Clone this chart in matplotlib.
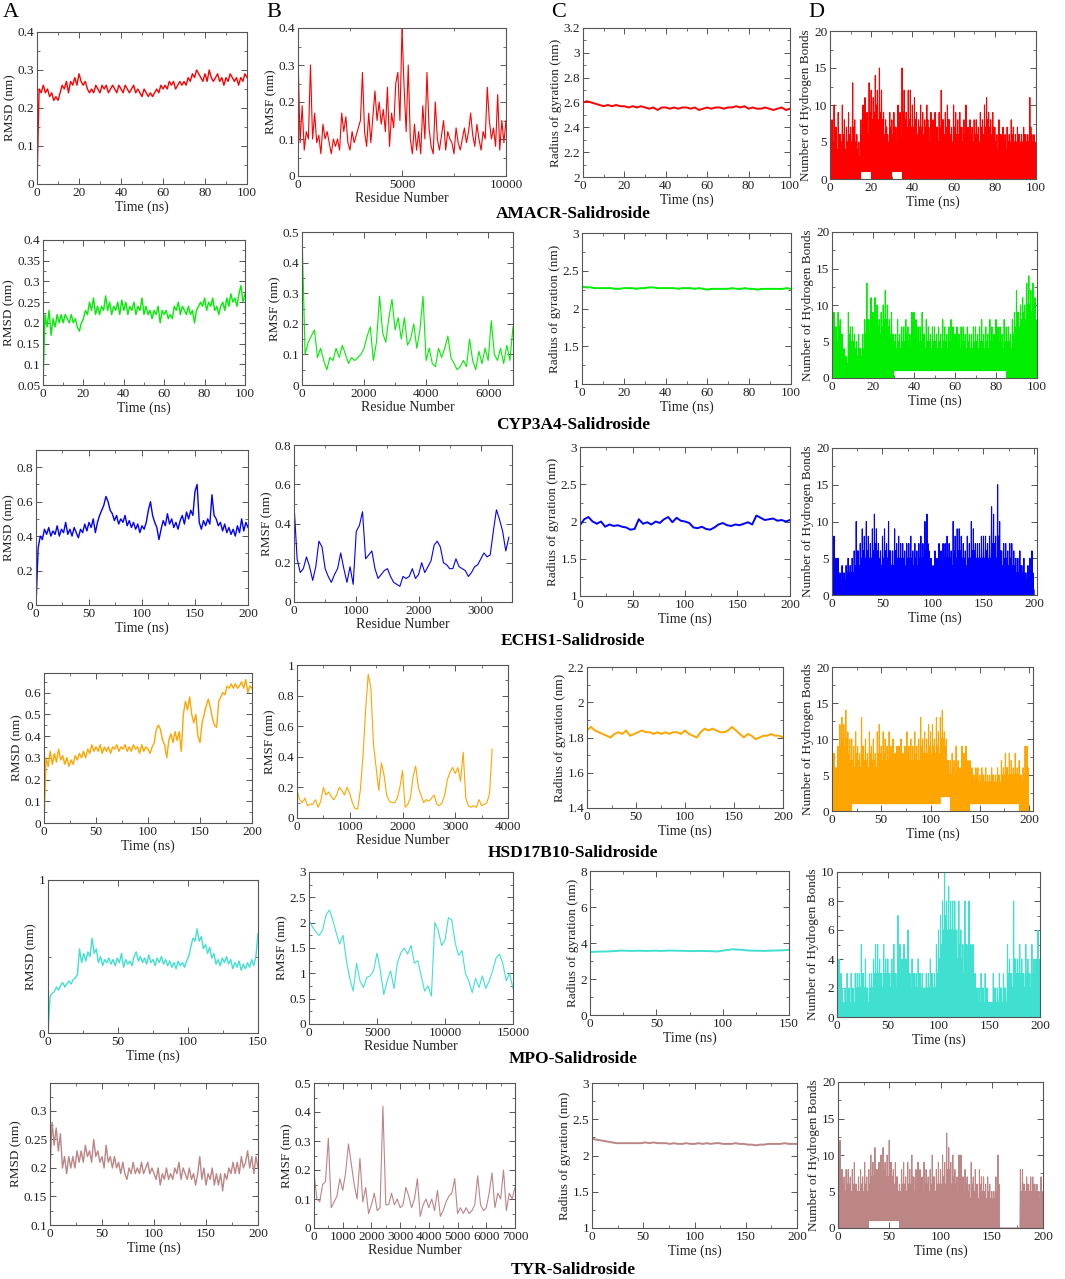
import numpy as np
import matplotlib
matplotlib.use("Agg")
import matplotlib.pyplot as plt
from matplotlib.ticker import MultipleLocator, AutoMinorLocator, FuncFormatter

plt.rcParams['font.family'] = ['Liberation Serif', 'DejaVu Serif']

# ---------------- data ----------------
complexes = ["AMACR-Salidroside", "CYP3A4-Salidroside", "ECHS1-Salidroside",
             "HSD17B10-Salidroside", "MPO-Salidroside", "TYR-Salidroside"]
colors = ["#ff0000", "#00ee00", "#0000ff", "#ffa500", "#40e0d0", "#bc8586"]
sim_time = [100, 100, 200, 200, 150, 200]        # ns (RMSD / Rg)
hb_time = [100, 100, 200, 200, 200, 200]         # ns (H-bonds)
n_residue = [10000, 6800, 3450, 3700, 15000, 7000]

# RMSD (nm)
amacr_rmsd = [0.00, 0.25, 0.24, 0.26, 0.24, 0.25, 0.23, 0.24, 0.22, 0.23,
              0.22, 0.24, 0.26, 0.25, 0.27, 0.24, 0.27, 0.26, 0.28, 0.26,
              0.29, 0.27, 0.26, 0.27, 0.25, 0.24, 0.25, 0.24, 0.26, 0.25,
              0.24, 0.26, 0.25, 0.26, 0.24, 0.25, 0.26, 0.25, 0.24, 0.26,
              0.25, 0.24, 0.26, 0.25, 0.24, 0.25, 0.26, 0.24, 0.25, 0.24,
              0.23, 0.25, 0.24, 0.23, 0.24, 0.23, 0.24, 0.25, 0.24, 0.26,
              0.25, 0.26, 0.25, 0.27, 0.26, 0.27, 0.25, 0.26, 0.27, 0.26,
              0.27, 0.26, 0.28, 0.27, 0.29, 0.28, 0.30, 0.29, 0.28, 0.27,
              0.29, 0.27, 0.30, 0.28, 0.27, 0.28, 0.29, 0.27, 0.28, 0.26,
              0.28, 0.27, 0.29, 0.28, 0.27, 0.28, 0.26, 0.28, 0.27, 0.29, 0.28]
cyp_rmsd = [0.05, 0.22, 0.19, 0.23, 0.17, 0.21, 0.19, 0.22, 0.20, 0.22,
            0.20, 0.22, 0.21, 0.20, 0.22, 0.20, 0.21, 0.19, 0.18, 0.20,
            0.21, 0.23, 0.22, 0.25, 0.23, 0.26, 0.22, 0.24, 0.22, 0.24,
            0.23, 0.265, 0.23, 0.25, 0.22, 0.24, 0.23, 0.25, 0.22, 0.255,
            0.23, 0.25, 0.22, 0.24, 0.23, 0.25, 0.22, 0.24, 0.23, 0.26,
            0.22, 0.24, 0.22, 0.23, 0.21, 0.23, 0.22, 0.24, 0.20, 0.23,
            0.22, 0.23, 0.21, 0.22, 0.21, 0.24, 0.23, 0.25, 0.22, 0.24,
            0.23, 0.22, 0.24, 0.22, 0.23, 0.20, 0.23, 0.24, 0.25, 0.24,
            0.26, 0.23, 0.25, 0.24, 0.26, 0.23, 0.24, 0.22, 0.24, 0.25,
            0.23, 0.26, 0.24, 0.27, 0.25, 0.26, 0.24, 0.27, 0.29, 0.25, 0.27]
echs1_rmsd = [0.00, 0.33, 0.40, 0.38, 0.44, 0.41, 0.45, 0.40, 0.43, 0.41,
              0.46, 0.40, 0.44, 0.42, 0.48, 0.41, 0.44, 0.40, 0.45, 0.42,
              0.39, 0.44, 0.42, 0.47, 0.43, 0.48, 0.45, 0.50, 0.42, 0.48,
              0.52, 0.55, 0.58, 0.63, 0.60, 0.55, 0.53, 0.49, 0.52, 0.47,
              0.50, 0.48, 0.52, 0.46, 0.49, 0.45, 0.48, 0.44, 0.47, 0.42,
              0.46, 0.44, 0.48, 0.55, 0.60, 0.52, 0.48, 0.45, 0.38, 0.44,
              0.49, 0.46, 0.53, 0.47, 0.50, 0.45, 0.48, 0.44, 0.49, 0.52,
              0.47, 0.54, 0.50, 0.55, 0.52, 0.66, 0.70, 0.48, 0.44, 0.49,
              0.46, 0.50, 0.47, 0.64, 0.52, 0.50, 0.46, 0.48, 0.43, 0.47,
              0.42, 0.45, 0.41, 0.44, 0.40, 0.46, 0.42, 0.50, 0.43, 0.48, 0.45]
hsd_rmsd = [0.00, 0.30, 0.26, 0.33, 0.27, 0.32, 0.28, 0.34, 0.29, 0.31,
            0.27, 0.30, 0.26, 0.29, 0.27, 0.31, 0.29, 0.32, 0.30, 0.33,
            0.30, 0.34, 0.32, 0.36, 0.33, 0.35, 0.33, 0.36, 0.32, 0.35,
            0.33, 0.35, 0.32, 0.35, 0.34, 0.36, 0.33, 0.35, 0.34, 0.36,
            0.33, 0.35, 0.33, 0.36, 0.34, 0.35, 0.32, 0.36, 0.33, 0.35,
            0.34, 0.32, 0.35, 0.37, 0.43, 0.45, 0.43, 0.38, 0.36, 0.30,
            0.38, 0.41, 0.37, 0.42, 0.38, 0.42, 0.33, 0.50, 0.56, 0.52,
            0.58, 0.50, 0.46, 0.50, 0.40, 0.37, 0.46, 0.50, 0.54, 0.57,
            0.53, 0.48, 0.45, 0.44, 0.56, 0.58, 0.60, 0.59, 0.63, 0.62,
            0.64, 0.62, 0.64, 0.62, 0.63, 0.65, 0.62, 0.66, 0.60, 0.63, 0.62]
mpo_rmsd = [0.00, 0.24, 0.26, 0.27, 0.30, 0.28, 0.31, 0.33, 0.30, 0.32,
            0.34, 0.32, 0.35, 0.36, 0.38, 0.55, 0.46, 0.52, 0.47, 0.53,
            0.50, 0.62, 0.52, 0.55, 0.46, 0.50, 0.44, 0.48, 0.46, 0.49,
            0.45, 0.48, 0.44, 0.49, 0.46, 0.52, 0.43, 0.48, 0.45, 0.47,
            0.44, 0.50, 0.53, 0.47, 0.50, 0.46, 0.49, 0.45, 0.51, 0.46,
            0.48, 0.44, 0.49, 0.46, 0.50, 0.45, 0.48, 0.44, 0.47, 0.43,
            0.46, 0.42, 0.47, 0.44, 0.46, 0.43, 0.47, 0.50, 0.56, 0.62,
            0.60, 0.68, 0.60, 0.63, 0.55, 0.58, 0.52, 0.56, 0.49, 0.52,
            0.45, 0.48, 0.44, 0.49, 0.46, 0.50, 0.45, 0.48, 0.42, 0.46,
            0.43, 0.47, 0.41, 0.45, 0.42, 0.46, 0.43, 0.48, 0.44, 0.50, 0.65]
tyr_rmsd = [0.20, 0.28, 0.24, 0.27, 0.23, 0.26, 0.20, 0.22, 0.19, 0.22,
            0.20, 0.22, 0.20, 0.23, 0.21, 0.23, 0.21, 0.24, 0.22, 0.23,
            0.21, 0.25, 0.22, 0.23, 0.21, 0.22, 0.20, 0.24, 0.21, 0.22,
            0.20, 0.22, 0.20, 0.21, 0.19, 0.21, 0.19, 0.18, 0.20, 0.19,
            0.21, 0.19, 0.20, 0.19, 0.21, 0.19, 0.20, 0.21, 0.19, 0.20,
            0.19, 0.18, 0.20, 0.17, 0.19, 0.18, 0.20, 0.18, 0.19, 0.18,
            0.20, 0.19, 0.21, 0.18, 0.20, 0.19, 0.18, 0.20, 0.18, 0.19,
            0.17, 0.19, 0.22, 0.18, 0.20, 0.17, 0.19, 0.18, 0.20, 0.17,
            0.19, 0.17, 0.19, 0.16, 0.19, 0.18, 0.20, 0.19, 0.21, 0.19,
            0.21, 0.19, 0.22, 0.20, 0.21, 0.23, 0.20, 0.22, 0.19, 0.22, 0.20]

# RMSF (nm)
amacr_rmsf = [0.33, 0.09, 0.19, 0.07, 0.12, 0.10, 0.30, 0.10, 0.17, 0.09,
              0.11, 0.06, 0.14, 0.10, 0.12, 0.09, 0.06, 0.10, 0.08, 0.10,
              0.07, 0.17, 0.12, 0.16, 0.09, 0.07, 0.12, 0.09, 0.11, 0.13,
              0.15, 0.28, 0.12, 0.08, 0.17, 0.09, 0.16, 0.23, 0.15, 0.20,
              0.14, 0.18, 0.12, 0.24, 0.08, 0.17, 0.13, 0.25, 0.28, 0.15,
              0.40, 0.24, 0.12, 0.30, 0.10, 0.06, 0.14, 0.07, 0.12, 0.06,
              0.19, 0.10, 0.28, 0.13, 0.08, 0.06, 0.20, 0.10, 0.07, 0.11,
              0.15, 0.07, 0.12, 0.10, 0.09, 0.06, 0.13, 0.09, 0.07, 0.10,
              0.13, 0.09, 0.12, 0.17, 0.11, 0.08, 0.14, 0.10, 0.07, 0.12,
              0.10, 0.24, 0.15, 0.10, 0.13, 0.08, 0.22, 0.07, 0.15, 0.09, 0.15]
cyp_rmsf = [0.50, 0.10, 0.14, 0.16, 0.18, 0.09, 0.12, 0.08, 0.05, 0.09,
            0.08, 0.12, 0.09, 0.13, 0.10, 0.07, 0.09, 0.08, 0.09, 0.10,
            0.12, 0.16, 0.19, 0.08, 0.14, 0.29, 0.17, 0.14, 0.22, 0.28,
            0.18, 0.22, 0.15, 0.22, 0.13, 0.15, 0.20, 0.12, 0.18, 0.29,
            0.08, 0.12, 0.07, 0.06, 0.12, 0.09, 0.12, 0.16, 0.09, 0.07,
            0.05, 0.06, 0.08, 0.06, 0.15, 0.08, 0.05, 0.11, 0.07, 0.12,
            0.08, 0.21, 0.10, 0.08, 0.12, 0.07, 0.13, 0.08, 0.19]
echs1_rmsf = [0.50, 0.22, 0.15, 0.17, 0.23, 0.18, 0.11, 0.18, 0.31, 0.28,
              0.17, 0.13, 0.10, 0.14, 0.17, 0.25, 0.17, 0.10, 0.18, 0.09,
              0.36, 0.39, 0.46, 0.22, 0.24, 0.26, 0.17, 0.12, 0.14, 0.16,
              0.17, 0.13, 0.10, 0.09, 0.08, 0.13, 0.12, 0.13, 0.17, 0.12,
              0.14, 0.20, 0.15, 0.18, 0.21, 0.29, 0.31, 0.28, 0.20, 0.19,
              0.17, 0.17, 0.22, 0.18, 0.17, 0.16, 0.13, 0.15, 0.18, 0.19,
              0.22, 0.25, 0.23, 0.24, 0.36, 0.47, 0.42, 0.36, 0.26, 0.33]
hsd_rmsf = [0.18, 0.12, 0.10, 0.13, 0.08, 0.09, 0.09, 0.12, 0.07, 0.11,
            0.20, 0.15, 0.17, 0.14, 0.12, 0.15, 0.20, 0.18, 0.15, 0.20,
            0.16, 0.10, 0.06, 0.06, 0.18, 0.40, 0.70, 0.94, 0.85, 0.48,
            0.33, 0.18, 0.36, 0.28, 0.15, 0.11, 0.10, 0.10, 0.13, 0.20,
            0.31, 0.07, 0.09, 0.13, 0.27, 0.34, 0.20, 0.15, 0.10, 0.12,
            0.11, 0.13, 0.15, 0.09, 0.08, 0.10, 0.15, 0.25, 0.30, 0.33,
            0.29, 0.33, 0.24, 0.43, 0.13, 0.08, 0.07, 0.08, 0.07, 0.12,
            0.08, 0.09, 0.10, 0.16, 0.45]
mpo_rmsf = [2.05, 1.92, 1.82, 1.75, 1.85, 2.15, 2.25, 2.05, 1.80, 1.58,
            1.75, 1.25, 0.90, 0.65, 1.20, 0.85, 0.72, 0.92, 0.95, 1.05,
            1.40, 1.05, 0.58, 0.85, 1.05, 0.70, 1.20, 1.40, 1.50, 1.38,
            1.55, 1.20, 1.25, 0.95, 0.65, 0.75, 0.55, 2.00, 1.85, 1.55,
            1.65, 2.10, 2.05, 1.60, 1.35, 1.45, 1.00, 0.85, 0.62, 0.90,
            0.72, 0.95, 0.70, 0.85, 1.05, 1.30, 1.38, 1.20, 0.85, 1.00, 0.70]
tyr_rmsf = [0.19, 0.10, 0.09, 0.15, 0.16, 0.31, 0.07, 0.09, 0.11, 0.17,
            0.13, 0.19, 0.29, 0.22, 0.15, 0.10, 0.24, 0.09, 0.14, 0.05,
            0.08, 0.12, 0.06, 0.07, 0.42, 0.08, 0.08, 0.12, 0.08, 0.10,
            0.07, 0.08, 0.14, 0.11, 0.07, 0.10, 0.17, 0.04, 0.08, 0.10,
            0.07, 0.10, 0.06, 0.13, 0.04, 0.06, 0.09, 0.11, 0.12, 0.17,
            0.05, 0.07, 0.05, 0.07, 0.05, 0.06, 0.08, 0.18, 0.08, 0.06,
            0.07, 0.12, 0.19, 0.07, 0.12, 0.10, 0.20, 0.06, 0.12, 0.10, 0.14]

# Radius of gyration (nm)
amacr_rg = [2.60, 2.61, 2.60, 2.59, 2.58, 2.57, 2.58, 2.57, 2.58, 2.57,
            2.57, 2.56, 2.57, 2.56, 2.57, 2.56, 2.55, 2.56, 2.54, 2.56,
            2.56, 2.55, 2.56, 2.55, 2.56, 2.56, 2.55, 2.56, 2.54, 2.55,
            2.56, 2.55, 2.56, 2.56, 2.55, 2.56, 2.56, 2.57, 2.56, 2.57,
            2.55, 2.56, 2.55, 2.55, 2.56, 2.55, 2.54, 2.55, 2.56, 2.54, 2.55]
cyp_rg = [2.29, 2.28, 2.28, 2.27, 2.27, 2.27, 2.27, 2.27, 2.26, 2.26,
          2.27, 2.27, 2.27, 2.26, 2.27, 2.27, 2.28, 2.28, 2.27, 2.27,
          2.27, 2.27, 2.27, 2.26, 2.27, 2.27, 2.27, 2.26, 2.27, 2.26,
          2.25, 2.26, 2.26, 2.26, 2.26, 2.26, 2.27, 2.26, 2.26, 2.27,
          2.26, 2.26, 2.25, 2.26, 2.26, 2.26, 2.26, 2.26, 2.26, 2.27, 2.26]
echs1_rg = [1.95, 2.03, 2.06, 2.00, 1.97, 2.00, 1.93, 1.96, 1.94, 1.95,
            1.93, 1.92, 1.89, 1.90, 2.03, 1.97, 1.99, 1.96, 2.00, 1.98,
            2.03, 2.06, 1.99, 2.05, 2.01, 2.00, 1.98, 1.92, 1.91, 1.93,
            1.90, 1.89, 1.92, 1.96, 1.98, 1.95, 1.94, 1.96, 1.95, 1.97,
            1.99, 1.96, 2.08, 2.05, 2.02, 2.03, 2.04, 2.01, 2.02, 2.00, 2.02]
hsd_rg = [1.84, 1.86, 1.84, 1.83, 1.82, 1.81, 1.80, 1.82, 1.83, 1.82,
          1.84, 1.81, 1.82, 1.83, 1.84, 1.83, 1.83, 1.82, 1.83, 1.82,
          1.83, 1.82, 1.83, 1.83, 1.82, 1.84, 1.82, 1.81, 1.80, 1.83,
          1.85, 1.84, 1.85, 1.84, 1.83, 1.83, 1.84, 1.86, 1.84, 1.82,
          1.80, 1.82, 1.81, 1.79, 1.80, 1.81, 1.81, 1.82, 1.81, 1.81, 1.80]
mpo_rg = [3.50, 3.52, 3.53, 3.55, 3.58, 3.56, 3.57, 3.56, 3.57, 3.56,
          3.58, 3.57, 3.56, 3.55, 3.56, 3.55, 3.53, 3.60, 3.65, 3.62,
          3.58, 3.57, 3.56, 3.58, 3.59, 3.62]
tyr_rg = [2.23, 2.22, 2.21, 2.20, 2.19, 2.18, 2.17, 2.17, 2.17, 2.17,
          2.17, 2.17, 2.17, 2.18, 2.17, 2.18, 2.17, 2.17, 2.17, 2.16,
          2.17, 2.16, 2.16, 2.17, 2.16, 2.16, 2.17, 2.16, 2.17, 2.16,
          2.17, 2.17, 2.16, 2.16, 2.16, 2.17, 2.16, 2.16, 2.15, 2.15,
          2.14, 2.15, 2.15, 2.16, 2.16, 2.16, 2.16, 2.17, 2.16, 2.16, 2.16]

# Hydrogen bonds: per-bin maximum, per-bin dense level, coarse floor
amacr_hb_peak = [12, 8, 10, 7, 9, 6, 10, 8, 7, 9, 7, 13, 8, 6, 5, 8, 10, 11, 9, 13,
                 12, 11, 14, 12, 15, 12, 9, 8, 6, 9, 8, 9, 7, 10, 9, 15, 12, 9, 12, 12,
                 10, 11, 9, 8, 10, 9, 8, 10, 7, 9, 8, 9, 7, 9, 12, 8, 9, 10, 8, 7,
                 10, 9, 8, 9, 7, 8, 10, 7, 8, 7, 8, 8, 7, 9, 8, 10, 11, 9, 8, 9,
                 7, 6, 8, 6, 7, 6, 7, 6, 8, 7, 6, 7, 6, 6, 7, 6, 6, 11, 6, 6]
amacr_hb_band = [6, 5, 7, 4, 6, 5, 6, 4, 5, 6, 5, 7, 5, 4, 3, 6, 7, 8, 6, 9,
                 8, 9, 10, 8, 9, 8, 6, 7, 5, 7, 6, 7, 5, 8, 6, 9, 8, 7, 8, 7,
                 7, 8, 6, 7, 7, 6, 7, 8, 5, 7, 6, 7, 5, 7, 8, 6, 7, 8, 6, 5,
                 7, 6, 6, 7, 5, 6, 7, 5, 6, 5, 6, 6, 5, 7, 6, 7, 8, 7, 6, 7,
                 5, 4, 6, 5, 5, 4, 5, 5, 6, 5, 5, 6, 5, 5, 6, 5, 5, 7, 5, 5]
amacr_hb_floor = [0, 0, 0, 1, 0, 0, 1, 0, 0, 0, 0, 0, 0, 0, 0, 0, 0, 0, 0, 0]
cyp_hb_peak = [7, 9, 7, 9, 8, 6, 4, 3, 9, 7, 7, 6, 5, 6, 4, 6, 8, 13, 8, 11,
               9, 11, 10, 8, 9, 10, 12, 10, 8, 9, 6, 6, 8, 6, 7, 7, 8, 7, 6, 9,
               9, 8, 7, 7, 9, 6, 8, 7, 6, 7, 7, 6, 7, 6, 8, 7, 6, 7, 8, 7,
               6, 7, 6, 7, 7, 6, 7, 6, 6, 7, 7, 6, 7, 8, 6, 7, 6, 8, 7, 6,
               8, 7, 7, 6, 8, 7, 7, 6, 8, 9, 12, 9, 10, 11, 10, 13, 14, 12, 13, 11]
cyp_hb_band = [6, 7, 5, 7, 6, 4, 3, 2, 6, 5, 5, 4, 3, 4, 3, 4, 6, 8, 6, 8,
               7, 8, 7, 6, 7, 8, 8, 7, 6, 6, 5, 4, 5, 4, 5, 5, 6, 5, 4, 6,
               6, 5, 5, 5, 6, 4, 5, 5, 4, 5, 5, 4, 5, 4, 5, 5, 4, 5, 5, 5,
               4, 5, 4, 5, 5, 4, 5, 4, 4, 5, 5, 4, 5, 5, 4, 5, 4, 5, 5, 4,
               5, 5, 5, 4, 5, 5, 5, 4, 6, 7, 9, 7, 8, 9, 8, 10, 10, 9, 10, 8]
cyp_hb_floor = [0, 0, 0, 0, 0, 0, 1, 1, 1, 1, 1, 1, 1, 1, 1, 1, 1, 0, 0, 0]
echs1_hb_peak = [4, 8, 5, 5, 3, 4, 3, 4, 5, 4, 5, 6, 10, 6, 7, 9, 8, 10, 8, 7,
                 9, 11, 9, 7, 6, 8, 9, 7, 10, 6, 6, 9, 7, 8, 7, 7, 6, 7, 7, 8,
                 6, 7, 6, 7, 8, 7, 10, 11, 6, 5, 4, 6, 5, 7, 6, 7, 7, 8, 7, 6,
                 10, 8, 9, 9, 8, 7, 6, 8, 7, 10, 9, 7, 7, 7, 8, 8, 8, 7, 8, 12,
                 11, 8, 15, 10, 6, 7, 7, 6, 7, 7, 6, 5, 5, 6, 4, 5, 3, 4, 5, 6]
echs1_hb_band = [3, 4, 3, 3, 2, 3, 2, 3, 3, 3, 3, 4, 6, 4, 5, 6, 5, 6, 5, 5,
                 6, 7, 6, 5, 4, 5, 6, 5, 6, 4, 4, 6, 5, 5, 5, 5, 4, 5, 5, 5,
                 4, 5, 4, 5, 5, 5, 6, 7, 4, 3, 3, 4, 4, 5, 4, 5, 5, 5, 5, 4,
                 6, 5, 6, 6, 5, 5, 4, 5, 5, 6, 6, 5, 5, 5, 5, 5, 6, 5, 5, 7,
                 7, 5, 8, 6, 4, 5, 5, 4, 5, 4, 4, 3, 3, 4, 3, 3, 2, 3, 3, 3]
echs1_hb_floor = [0] * 20
hsd_hb_peak = [7, 8, 6, 9, 12, 13, 12, 14, 11, 10, 10, 9, 11, 9, 8, 13, 9, 10, 8, 11,
               9, 10, 8, 11, 12, 9, 11, 10, 9, 11, 9, 10, 8, 9, 9, 10, 8, 9, 11, 9,
               10, 9, 11, 9, 10, 13, 10, 11, 10, 12, 11, 12, 10, 13, 11, 13, 14, 11, 10, 7,
               7, 8, 7, 9, 7, 6, 9, 8, 9, 7, 7, 6, 5, 6, 6, 5, 6, 5, 6, 5,
               5, 6, 5, 5, 6, 5, 7, 6, 8, 6, 8, 7, 6, 8, 6, 7, 5, 6, 9, 9]
hsd_hb_band = [5, 6, 4, 7, 9, 10, 9, 10, 8, 7, 7, 6, 8, 7, 6, 9, 7, 7, 6, 8,
               7, 7, 6, 8, 8, 7, 8, 7, 7, 8, 7, 7, 6, 7, 7, 7, 6, 7, 8, 7,
               7, 7, 8, 7, 7, 9, 8, 8, 8, 9, 8, 9, 8, 9, 8, 10, 10, 9, 7, 5,
               5, 6, 5, 6, 5, 5, 6, 6, 6, 5, 5, 5, 4, 5, 4, 4, 5, 4, 4, 4,
               4, 5, 4, 4, 5, 4, 5, 5, 6, 5, 5, 5, 5, 5, 5, 5, 4, 5, 6, 6]
hsd_hb_floor = [0, 0, 1, 1, 1, 1, 1, 1, 1, 1, 1, 2, 0, 0, 1, 1, 1, 1, 1, 0]
mpo_hb_peak = [6, 4, 3, 1, 2, 3, 2, 3, 2, 3, 3, 3, 5, 3, 4, 2, 3, 3, 4, 5,
               5, 4, 3, 5, 4, 4, 3, 4, 5, 3, 7, 5, 4, 5, 4, 6, 3, 4, 3, 3,
               4, 3, 3, 2, 3, 3, 4, 3, 3, 5, 6, 7, 8, 10, 8, 9, 8, 8, 8, 6,
               8, 6, 5, 8, 5, 8, 5, 5, 3, 2, 2, 3, 2, 3, 2, 1, 1, 3, 2, 2,
               3, 2, 3, 2, 5, 4, 3, 8, 4, 4, 5, 4, 3, 5, 4, 3, 5, 4, 4, 6]
mpo_hb_band = [3, 2, 2, 1, 1, 2, 1, 2, 1, 2, 2, 2, 3, 2, 2, 1, 2, 2, 3, 3,
               3, 3, 2, 3, 3, 3, 2, 3, 3, 2, 4, 3, 3, 3, 3, 3, 2, 3, 2, 2,
               3, 2, 2, 2, 2, 2, 3, 2, 2, 3, 4, 5, 6, 7, 6, 6, 6, 6, 6, 4,
               5, 4, 3, 5, 3, 5, 3, 3, 2, 1, 1, 2, 1, 2, 1, 1, 1, 2, 1, 1,
               2, 1, 2, 1, 3, 3, 2, 4, 3, 3, 3, 3, 2, 3, 3, 2, 3, 3, 3, 4]
mpo_hb_floor = [0] * 20
tyr_hb_peak = [10, 12, 8, 7, 8, 8, 7, 8, 9, 6, 7, 8, 7, 9, 7, 8, 10, 9, 11, 8,
               9, 10, 11, 9, 10, 12, 9, 8, 9, 7, 6, 8, 9, 7, 9, 8, 10, 7, 8, 9,
               8, 7, 9, 8, 7, 8, 10, 7, 8, 9, 8, 10, 9, 13, 11, 9, 10, 8, 7, 10,
               10, 7, 8, 7, 6, 9, 7, 8, 6, 8, 7, 7, 6, 7, 6, 5, 5, 7, 10, 0,
               0, 0, 0, 0, 0, 0, 0, 0, 0, 8, 8, 6, 7, 6, 7, 7, 6, 6, 5, 7]
tyr_hb_band = [7, 8, 6, 5, 6, 6, 5, 6, 6, 5, 5, 6, 5, 6, 5, 6, 7, 7, 8, 6,
               7, 7, 8, 7, 7, 9, 7, 6, 7, 5, 5, 6, 6, 5, 6, 6, 7, 5, 6, 6,
               6, 5, 6, 6, 5, 6, 7, 5, 6, 6, 6, 7, 6, 8, 8, 6, 7, 6, 5, 7,
               7, 5, 6, 5, 4, 6, 5, 6, 4, 6, 5, 5, 4, 5, 4, 4, 4, 5, 6, 0,
               0, 0, 0, 0, 0, 0, 0, 0, 0, 5, 6, 5, 6, 5, 5, 6, 5, 5, 4, 5]
tyr_hb_floor = [0, 0, 0, 1, 1, 1, 0, 0, 0, 0, 0, 0, 0, 0, 0, 0, 0, 0, 0, 0]

rmsd_all = [amacr_rmsd, cyp_rmsd, echs1_rmsd, hsd_rmsd, mpo_rmsd, tyr_rmsd]
rmsf_all = [amacr_rmsf, cyp_rmsf, echs1_rmsf, hsd_rmsf, mpo_rmsf, tyr_rmsf]
rg_all = [amacr_rg, cyp_rg, echs1_rg, hsd_rg, mpo_rg, tyr_rg]
hb_all = [(amacr_hb_peak, amacr_hb_band, amacr_hb_floor),
          (cyp_hb_peak, cyp_hb_band, cyp_hb_floor),
          (echs1_hb_peak, echs1_hb_band, echs1_hb_floor),
          (hsd_hb_peak, hsd_hb_band, hsd_hb_floor),
          (mpo_hb_peak, mpo_hb_band, mpo_hb_floor),
          (tyr_hb_peak, tyr_hb_band, tyr_hb_floor)]

# ---------------- layout (pixels: left, top, right, bottom) ----------------
W, H = 1065, 1279
boxes = [
    [(37, 32, 247, 184), (298, 28, 506, 176), (583, 28, 790, 177), (830, 31, 1036, 179)],
    [(43, 240, 245, 385), (302, 232, 513, 385), (582, 233, 791, 384), (832, 232, 1037, 378)],
    [(36, 450, 248, 605), (294, 445, 512, 602), (580, 447, 790, 596), (832, 448, 1037, 595)],
    [(44, 673, 252, 823), (297, 665, 508, 818), (587, 667, 783, 808), (832, 667, 1033, 811)],
    [(48, 880, 258, 1033), (309, 872, 513, 1024), (590, 871, 789, 1015), (837, 872, 1040, 1017)],
    [(50, 1083, 258, 1225), (314, 1083, 515, 1228), (592, 1083, 797, 1228), (838, 1082, 1043, 1228)],
]
title_y = [214, 425, 641, 853, 1059, 1270]

# axis settings: (xmax, xstep, ymin, ymax, ystep)
axcfg = [
    [(100, 20, 0, 0.4, 0.1), (10000, 5000, 0, 0.4, 0.1), (100, 20, 2, 3.2, 0.2), (100, 20, 0, 20, 5)],
    [(100, 20, 0.05, 0.4, 0.05), (6800, 2000, 0, 0.5, 0.1), (100, 20, 1, 3, 0.5), (100, 20, 0, 20, 5)],
    [(200, 50, 0, 0.9, 0.2), (3500, 1000, 0, 0.8, 0.2), (200, 50, 1, 3, 0.5), (203, 50, 0, 20, 5)],
    [(200, 50, 0, 0.69, 0.1), (4000, 1000, 0, 1, 0.2), (200, 50, 1.4, 2.2, 0.2), (204, 50, 0, 20, 5)],
    [(150, 50, 0, 1, 1), (15000, 5000, 0, 3, 0.5), (150, 50, 0, 8, 2), (200, 50, 0, 10, 2)],
    [(200, 50, 0.1, 0.349, 0.05), (7000, 1000, 0, 0.5, 0.1), (200, 50, 1, 3, 0.5), (200, 50, 0, 20, 5)],
]
xlabels = ["Time (ns)", "Residue Number", "Time (ns)", "Time (ns)"]
ylabels = ["RMSD (nm)", "RMSF (nm)", "Radius of gyration (nm)", "Number of Hydrogen Bonds"]

fmt = FuncFormatter(lambda v, p: "%g" % round(v, 6))
frame_col = "#555555"

fig = plt.figure(figsize=(W / 100, H / 100), dpi=100)

for r in range(6):
    col = colors[r]
    for c in range(4):
        l, t, rr, b = boxes[r][c]
        ax = fig.add_axes([l / W, 1 - b / H, (rr - l) / W, (b - t) / H])
        xmax, xstep, ymin, ymax, ystep = axcfg[r][c]

        if c == 0:
            y = rmsd_all[r]
            ax.plot(np.linspace(0, sim_time[r], len(y)), y, color=col, lw=1.0)
        elif c == 1:
            y = rmsf_all[r]
            ax.plot(np.linspace(0, n_residue[r], len(y)), y, color=col, lw=0.8)
        elif c == 2:
            y = rg_all[r]
            ax.plot(np.linspace(0, sim_time[r], len(y)), y, color=col, lw=1.4)
        else:
            # each bin is drawn as a quick up/down trace: peak, floor, band, floor
            peak, band, floor = hb_all[r]
            peak = np.array(peak, float)
            band = np.minimum(np.array(band, float), peak)
            n = len(peak)
            idx = (np.arange(n) * len(floor)) // n
            floor_r = np.minimum(np.array(floor, float)[idx], band)
            dt = hb_time[r] / n
            x0 = np.arange(n) * dt
            xs = np.column_stack([x0, x0 + dt * 0.25, x0 + dt * 0.5, x0 + dt * 0.75]).ravel()
            ys = np.column_stack([peak, floor_r, band, floor_r]).ravel()
            ax.plot(xs, ys, color=col, lw=0.8)

        ax.set_xlim(0, xmax)
        ax.set_ylim(ymin, ymax)
        ax.xaxis.set_major_locator(MultipleLocator(xstep))
        ax.yaxis.set_major_locator(MultipleLocator(ystep))
        ax.xaxis.set_minor_locator(AutoMinorLocator(2))
        ax.yaxis.set_minor_locator(AutoMinorLocator(2))
        ax.xaxis.set_major_formatter(fmt)
        ax.yaxis.set_major_formatter(fmt)
        ax.tick_params(which='both', direction='in', top=True, right=True,
                       colors=frame_col, labelcolor='#222222', labelsize=9.5, pad=2)
        ax.tick_params(which='major', length=4, width=0.7)
        ax.tick_params(which='minor', length=2, width=0.6)
        for sp in ax.spines.values():
            sp.set_color(frame_col)
            sp.set_linewidth(0.8)
        ax.set_xlabel(xlabels[c], fontsize=10, labelpad=1, color='#222222')
        ax.set_ylabel(ylabels[c], fontsize=9.5, labelpad=1, color='#222222')

    fig.text(573 / W, 1 - title_y[r] / H, complexes[r], ha='center', va='center',
             fontsize=12.5, fontweight='bold')

for letter, xp in zip("ABCD", [3, 266, 551, 808]):
    fig.text(xp / W, 1 - 3 / H, letter, ha='left', va='top', fontsize=16)

fig.savefig("out.png", dpi=100)
